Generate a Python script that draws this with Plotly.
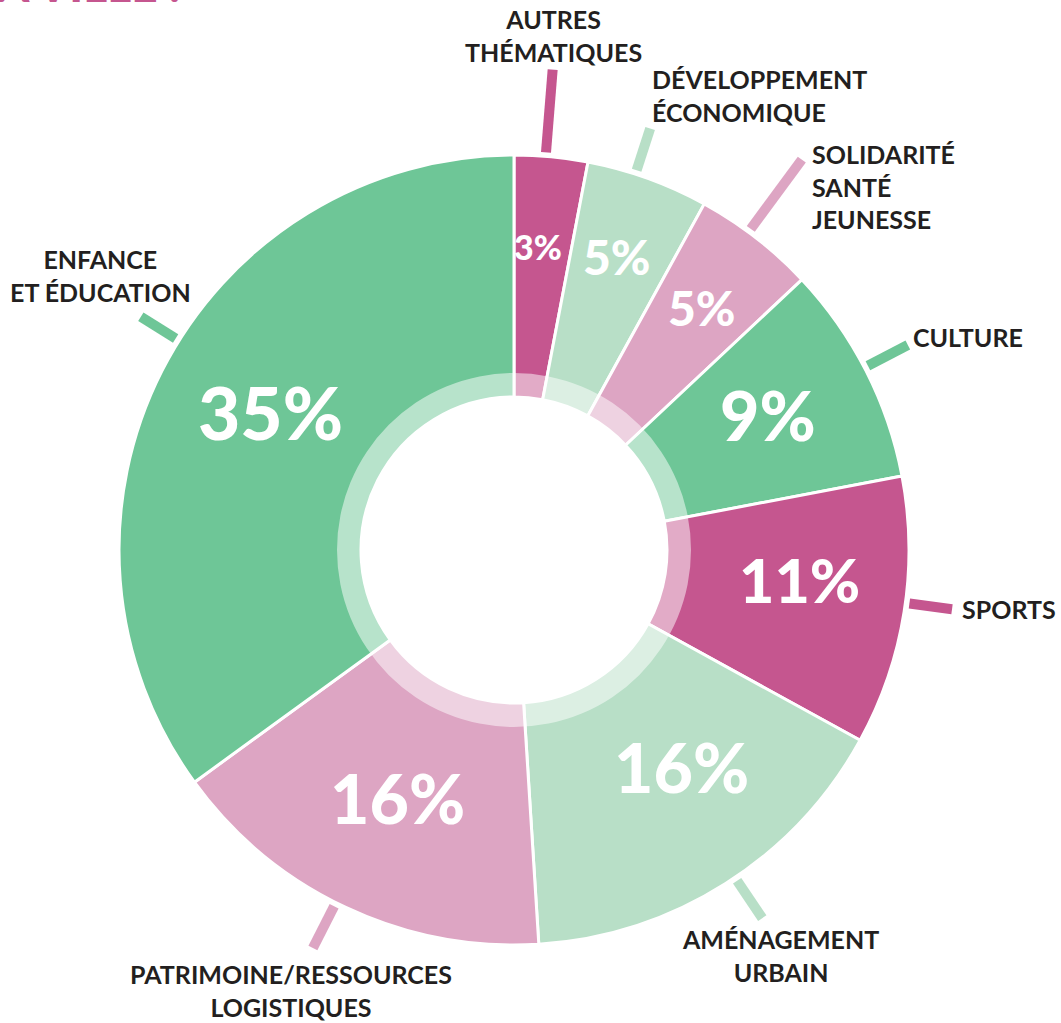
import math
import plotly.graph_objects as go

# ---------------- data ----------------
categories = [
    "AUTRES<br>THÉMATIQUES",
    "DÉVELOPPEMENT<br>ÉCONOMIQUE",
    "SOLIDARITÉ<br>SANTÉ<br>JEUNESSE",
    "CULTURE",
    "SPORTS",
    "AMÉNAGEMENT<br>URBAIN",
    "PATRIMOINE/RESSOURCES<br>LOGISTIQUES",
    "ENFANCE<br>ET ÉDUCATION",
]
values = [3, 5, 5, 9, 11, 16, 16, 35]
pct_labels = [f"{v}%" for v in values]
title_text = "LA VILLE :"

# ---------------- style ----------------
colors = ["#C5568F", "#B8DFC7", "#DDA5C3", "#6EC697",
          "#C5568F", "#B8DFC7", "#DDA5C3", "#6EC697"]
pct_sizes = [34, 48, 48, 68, 61, 68, 68, 73]
pct_radius = [304, 311, 307, 288, 287, 274, 273, 280]
pct_shift = [-0.9, -0.4, 0.0, -1.0, -3.0, -5.3, 0.0, 2.5]
tick_out = [482, 443, 485, 444, 442, 444, 446, 440]
tick_shift = [-0.8, -1.9, -1.4, -0.5, -1.3, -1.6, 1.6, 5.0]
# label anchor (px from left, px from top, xanchor, align)
label_layout = [
    (553, 36, "center", "center"),
    (650, 95, "left", "left"),
    (810, 187, "left", "left"),
    (911, 337, "left", "left"),
    (960, 609, "left", "left"),
    (780, 955, "center", "center"),
    (291, 990, "center", "center"),
    (100, 275, "center", "center"),
]

W, H = 1061, 1023
CX, CY = 514, 550
R, R_RING, R_HOLE = 395, 177, 153
TICK_IN = 399
FONT = "Lato"
TEXT_COLOR = "#231F20"


def dom(r):
    return dict(x=[(CX - r) / W, (CX + r) / W],
                y=[(H - CY - r) / H, (H - CY + r) / H])


def polar(r, ang):
    a = math.radians(ang)
    return (CX + r * math.sin(a)) / W, (H - (CY - r * math.cos(a))) / H


fig = go.Figure()
fig.add_trace(go.Pie(
    values=values, labels=categories, sort=False, direction="clockwise",
    rotation=0, hole=R_HOLE / R, domain=dom(R),
    marker=dict(colors=colors, line=dict(color="white", width=3)),
    textinfo="none", hoverinfo="label+value", showlegend=False,
))
# lighter inner ring: translucent white veil over the inner band
fig.add_trace(go.Pie(
    values=[1], labels=["ring"], sort=False, hole=R_HOLE / R_RING,
    domain=dom(R_RING),
    marker=dict(colors=["rgba(255,255,255,0.5)"], line=dict(width=0)),
    textinfo="none", hoverinfo="skip", showlegend=False,
))

total = sum(values)
cum = 0
annotations = []
shapes = []
for i, v in enumerate(values):
    mid = (cum + v / 2) / total * 360
    cum += v
    # percentage
    px_, py_ = polar(pct_radius[i], mid + pct_shift[i])
    annotations.append(dict(
        x=px_, y=py_, xref="paper", yref="paper", text=pct_labels[i],
        showarrow=False, xanchor="center", yanchor="middle",
        font=dict(family=FONT, size=pct_sizes[i], color="white", weight=900),
    ))
    # tick
    a = mid + tick_shift[i]
    x0, y0 = polar(TICK_IN, a)
    x1, y1 = polar(tick_out[i], a)
    shapes.append(dict(type="line", xref="paper", yref="paper",
                       x0=x0, y0=y0, x1=x1, y1=y1,
                       line=dict(color=colors[i], width=10)))
    # label
    lx, ly, xa, al = label_layout[i]
    annotations.append(dict(
        x=lx / W, y=(H - ly) / H, xref="paper", yref="paper",
        text=categories[i], showarrow=False, xanchor=xa, yanchor="middle",
        align=al,
        font=dict(family=FONT, size=25, color=TEXT_COLOR, weight=700),
    ))

annotations.append(dict(
    x=183 / W, y=(H + 16) / H, xref="paper", yref="paper", text=title_text,
    showarrow=False, xanchor="right", yanchor="middle",
    font=dict(family=FONT, size=46, color="#C5568F", weight=900),
))

fig.update_layout(
    width=W, height=H, margin=dict(l=0, r=0, t=0, b=0),
    paper_bgcolor="white", plot_bgcolor="white",
    annotations=annotations, shapes=shapes,
)

fig.write_html("out.html", config={"displayModeBar": False},
               post_script="document.body.style.margin='0';"
                           "document.body.style.padding='0';")
